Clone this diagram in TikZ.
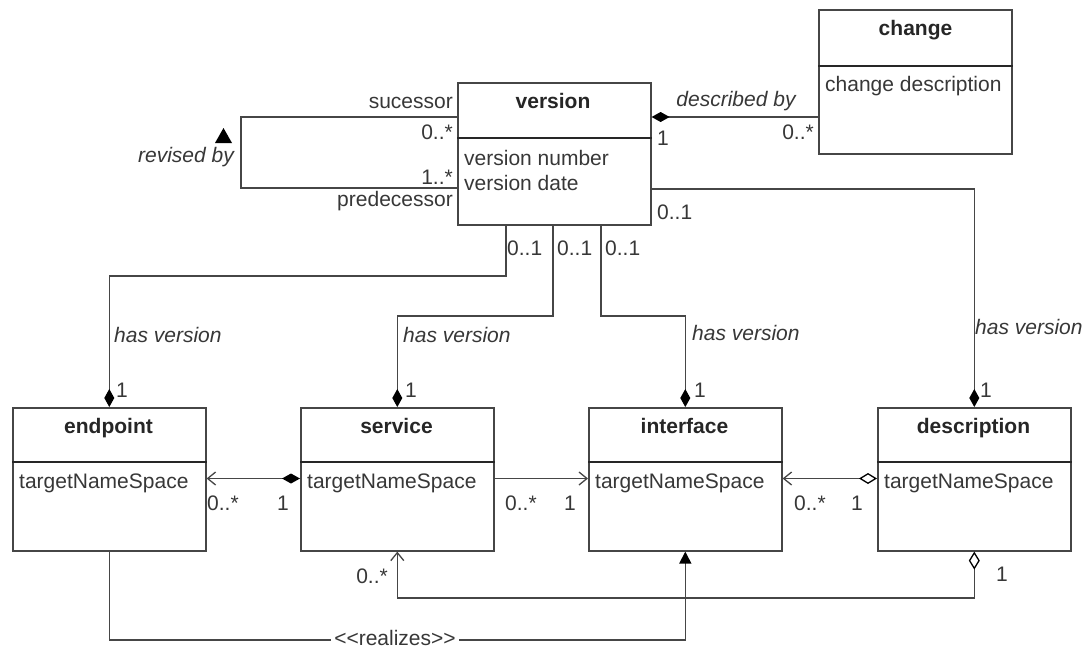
\documentclass[tikz,border=0pt]{standalone}
\usepackage{fontspec}
\setmainfont{Liberation Sans}
\usetikzlibrary{arrows.meta}
\definecolor{ln}{RGB}{70,70,70}
\definecolor{tx}{RGB}{55,55,55}
\tikzset{
  CompD/.tip={Diamond[length=18pt,width=10pt,fill=black,color=black]},
  AggD/.tip={Diamond[length=18pt,width=11pt,fill=white,color=black,line width=1.3pt]},
  OpenA/.tip={Straight Barb[length=8pt,width=13pt,line width=1.3pt]},
  RealT/.tip={Triangle[length=12pt,width=12pt,fill=black,color=black]},
}
\begin{document}
\begin{tikzpicture}[x=1pt,y=-1pt,
  font=\fontsize{21}{25}\selectfont,
  umlbox/.style={draw=ln,line width=1.6pt,minimum width=193pt,inner sep=0pt,anchor=north west},
  sepline/.style={draw=black!85,line width=1.2pt},
  conn/.style={draw=ln,line width=1.6pt},
  ttl/.style={font=\fontsize{21}{25}\selectfont\bfseries,text=black!85,inner sep=0pt,anchor=base},
  attr/.style={text=tx,inner sep=0pt,anchor=west},
  lbl/.style={text=tx,inner sep=0pt},
  role/.style={text=tx,inner sep=0pt,font=\fontsize{21}{25}\selectfont\itshape},
]
\useasboundingbox (0,0) rectangle (1090,651);

% ---------- class boxes ----------
\node[umlbox,minimum height=144pt] (change) at (818,9) {};
\node[umlbox,minimum height=142pt] (version) at (457,82) {};
\node[umlbox,minimum height=143pt] (endpoint) at (12,407) {};
\node[umlbox,minimum height=143pt] (service) at (300,407) {};
\node[umlbox,minimum height=143pt] (interface) at (588,407) {};
\node[umlbox,minimum height=143pt] (description) at (877,407) {};

% separators
\draw[sepline] (change.west |- 0,66) -- (change.east |- 0,66);
\draw[sepline] (version.west |- 0,138) -- (version.east |- 0,138);
\foreach \b in {endpoint,service,interface,description}
  \draw[sepline] (\b.west |- 0,462) -- (\b.east |- 0,462);

% titles
\node[ttl] (change-t) at (915.5,35) {change};
\node[ttl] (version-t) at (553,108) {version};
\node[ttl] (endpoint-t) at (108.5,433) {endpoint};
\node[ttl] (service-t) at (396.5,433) {service};
\node[ttl] (interface-t) at (684.5,433) {interface};
\node[ttl] (description-t) at (973.5,433) {description};

% attributes
\node[attr] (change-a) at (825,86) {change description};
\node[attr] (version-a1) at (464,158) {version number};
\node[attr] (version-a2) at (464,183) {version date};
\node[attr] (endpoint-a) at (19,483) {targetNameSpace};
\node[attr] (service-a) at (307,483) {targetNameSpace};
\node[attr] (interface-a) at (595,483) {targetNameSpace};
\node[attr] (description-a) at (884,483) {targetNameSpace};

% ---------- helper coordinates ----------
\coordinate (loopTop) at (241,117);
\coordinate (loopBot) at (241,188);
\coordinate (dby) at (700,117);
\coordinate (dsc) at (800,189);
\coordinate (epH) at (506,276);
\coordinate (svH) at (553,316);
\coordinate (ifH) at (601,316);
\coordinate (rowY) at (0,478.5);
\coordinate (aggY) at (0,598);
\coordinate (realY) at (0,640);

% ---------- revised by (self association) ----------
\draw[conn] (version.west |- loopTop) -- (loopTop) -- (loopBot) -- (version.west |- loopBot);
\node[role,anchor=east] (revised) at (234,157) {revised by};
\fill[black] (215,143) -- (232,143) -- (223.5,128) -- cycle;
\node[lbl,anchor=east] (suc) at (453,103) {sucessor};
\node[lbl,anchor=east] (sucm) at (453,132) {0..*};
\node[lbl,anchor=east] (predm) at (453,177) {1..*};
\node[lbl,anchor=east] (pred) at (453,201) {predecessor};

% ---------- described by ----------
\draw[conn,CompD-] (version.east |- dby) -- (change.west |- dby);
\node[role] (dbyl) at (736,101) {described by};
\node[lbl,anchor=west] (dby1) at (657,138) {1};
\node[lbl,anchor=east] (dbym) at (814,132) {0..*};

% ---------- has version ----------
\draw[conn,-CompD] (version.south -| epH) -- (epH) -- (endpoint.north |- epH) -- (endpoint.north);
\draw[conn,-CompD] (version.south -| svH) -- (svH) -- (service.north |- svH) -- (service.north);
\draw[conn,-CompD] (version.south -| ifH) -- (ifH) -- (interface.north |- ifH) -- (interface.north);
\draw[conn,-CompD] (version.east |- dsc) -- (description.north |- dsc) -- (description.north);

\node[lbl,anchor=west] (m1) at (507,248) {0..1};
\node[lbl,anchor=west] (m2) at (557,248) {0..1};
\node[lbl,anchor=west] (m3) at (605,248) {0..1};
\node[lbl,anchor=west] (m4) at (657,212) {0..1};

\node[role,anchor=west] (hv1) at (114,335) {has version};
\node[role,anchor=west] (hv2) at (403,335) {has version};
\node[role,anchor=west] (hv3) at (692,333) {has version};
\node[role,anchor=west] (hv4) at (975,327) {has version};

\node[lbl,anchor=west] (o1) at (116,390) {1};
\node[lbl,anchor=west] (o2) at (405,390) {1};
\node[lbl,anchor=west] (o3) at (694,390) {1};
\node[lbl,anchor=west] (o4) at (980,390) {1};

% ---------- row associations ----------
\draw[conn,OpenA-CompD] (endpoint.east |- rowY) -- (service.west |- rowY);
\node[lbl,anchor=west] (r1) at (207,503) {0..*};
\node[lbl] (r2) at (283,503) {1};

\draw[conn,-OpenA] (service.east |- rowY) -- (interface.west |- rowY);
\node[lbl,anchor=west] (r3) at (505,503) {0..*};
\node[lbl] (r4) at (570,503) {1};

\draw[conn,OpenA-AggD] (interface.east |- rowY) -- (description.west |- rowY);
\node[lbl,anchor=west] (r5) at (794,503) {0..*};
\node[lbl] (r6) at (857,503) {1};

% ---------- description to service ----------
\draw[conn,AggD-OpenA] (description.south) -- (description.south |- aggY) -- (service.south |- aggY) -- (service.south);
\node[lbl,anchor=east] (a1) at (388,576) {0..*};
\node[lbl] (a2) at (1002,574) {1};

% ---------- realizes ----------
\draw[conn,-RealT] (endpoint.south) -- (endpoint.south |- realY) -- (interface.south |- realY) -- (interface.south);
\node[lbl,fill=white,inner xsep=3pt,anchor=base] (real) at (395,645) {<\kern0pt<realizes>\kern0pt>};
\end{tikzpicture}
\end{document}
